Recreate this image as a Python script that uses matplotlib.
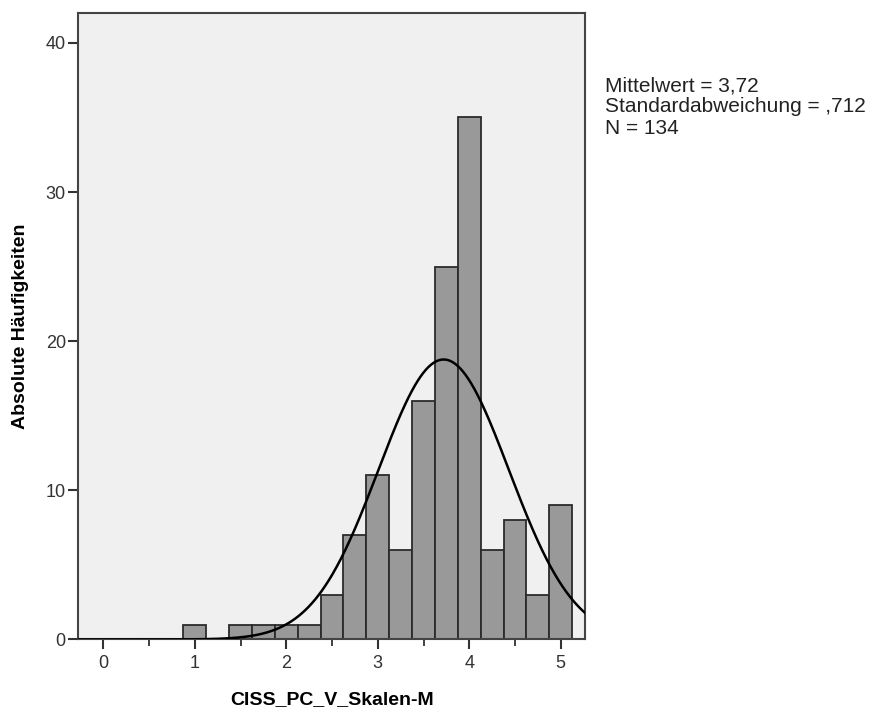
import numpy as np
import matplotlib
matplotlib.use("Agg")
import matplotlib.pyplot as plt
from matplotlib.ticker import MultipleLocator

plt.rcParams['font.family'] = ['Liberation Sans', 'DejaVu Sans']

# Histogram of scale means (bin width 0.25)
bin_centers = [1.0, 1.25, 1.5, 1.75, 2.0, 2.25, 2.5, 2.75, 3.0, 3.25,
               3.5, 3.75, 4.0, 4.25, 4.5, 4.75, 5.0]
counts = [1, 0, 1, 1, 1, 1, 3, 7, 11, 6, 16, 25, 35, 6, 8, 3, 9]
bin_width = 0.25

mean_value = 3.72
std_value = 0.712
n_value = 134

x_ticks = [0, 1, 2, 3, 4, 5]
y_ticks = [0, 10, 20, 30, 40]

fig = plt.figure(figsize=(8.78, 7.11), dpi=100)
ax = fig.add_axes([0.0892, 0.1006, 0.5771, 0.8811])
ax.set_facecolor('#f0f0f0')

ax.bar(bin_centers, counts, width=bin_width, color='#999999',
       edgecolor='#2b2b2b', linewidth=1.3, zorder=2)

# Normal curve scaled to counts
xs = np.linspace(-0.3, 5.3, 600)
pdf = np.exp(-0.5 * ((xs - mean_value) / std_value) ** 2) / (std_value * np.sqrt(2 * np.pi))
ax.plot(xs, n_value * bin_width * pdf, color='black', linewidth=1.8, zorder=3)

ax.set_xlim(-0.273, 5.265)
ax.set_ylim(0, 42)
ax.set_xticks(x_ticks)
ax.set_yticks(y_ticks)
ax.xaxis.set_minor_locator(MultipleLocator(0.5))

ax.tick_params(axis='both', which='major', direction='out', length=7,
               width=1.5, color='#333333', labelsize=13, labelcolor='#333333', pad=4)
ax.tick_params(axis='y', which='major', pad=2)
ax.tick_params(axis='x', which='minor', direction='out', length=5,
               width=1.3, color='#333333')

for spine in ax.spines.values():
    spine.set_color('#444444')
    spine.set_linewidth(1.5)

ax.set_xlabel('CISS_PC_V_Skalen-M', fontsize=14, fontweight='bold', labelpad=14)
ax.set_ylabel('Absolute Häufigkeiten', fontsize=14, fontweight='bold', labelpad=12)

fig.text(605 / 878, 1 - 76 / 711,
         'Mittelwert = 3,72\nStandardabweichung = ,712\nN = 134',
         fontsize=15, color='#222222', va='top', ha='left', linespacing=1.15)

fig.savefig('out.png', dpi=100, facecolor='white')
